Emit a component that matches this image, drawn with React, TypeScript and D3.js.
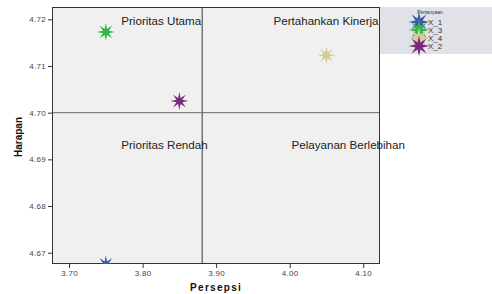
import React, { useEffect, useRef } from 'react';
import * as d3 from 'd3';

const series = ['X_1', 'X_3', 'X_4', 'X_2'];
const persepsi = [3.75, 3.75, 4.05, 3.85];
const harapan = [4.6675, 4.7173, 4.7123, 4.7025];
const colors = ['#3e58ac', '#2eb848', '#d3ce97', '#7c287d'];

const xTicks = [3.7, 3.8, 3.9, 4.0, 4.1];
const yTicks = [4.67, 4.68, 4.69, 4.7, 4.71, 4.72];

const refX = 3.881;
const refY = 4.7;

const quadLabels = ['Prioritas Utama', 'Pertahankan Kinerja', 'Prioritas Rendah', 'Pelayanan Berlebihan'];
const quadX = [3.771, 3.978, 3.771, 4.0025];
const quadY = [4.7187, 4.7187, 4.6922, 4.6922];

// 8-point star path
const starPath = (outer: number, inner: number) => {
  const pts = d3.range(16).map(i => {
    const r = i % 2 === 0 ? outer : inner;
    const a = (i * Math.PI) / 8 - Math.PI / 2;
    return [r * Math.cos(a), r * Math.sin(a)] as [number, number];
  });
  return d3.line()(pts) + 'Z';
};

const App: React.FC = () => {
  const svgRef = useRef<SVGSVGElement>(null);

  useEffect(() => {
    if (!svgRef.current) return;
    const width = 492;
    const height = 294;
    const plot = { left: 52, top: 7, right: 380, bottom: 264 };
    const font = 'Liberation Sans, Arial, sans-serif';

    const svg = d3.select(svgRef.current);
    svg.selectAll('*').remove();

    const x = d3.scaleLinear().domain([3.6768, 4.1228]).range([plot.left, plot.right]);
    const y = d3.scaleLinear().domain([4.66758, 4.72264]).range([plot.bottom, plot.top]);

    svg.append('rect').attr('width', width).attr('height', height).attr('fill', '#ffffff');

    svg.append('rect')
      .attr('x', plot.left).attr('y', plot.top)
      .attr('width', plot.right - plot.left).attr('height', plot.bottom - plot.top)
      .attr('fill', '#f0f0f0');

    svg.append('clipPath').attr('id', 'plotclip')
      .append('rect')
      .attr('x', plot.left).attr('y', plot.top)
      .attr('width', plot.right - plot.left).attr('height', plot.bottom - plot.top);

    // reference lines
    svg.append('line')
      .attr('x1', x(refX)).attr('x2', x(refX))
      .attr('y1', plot.top).attr('y2', plot.bottom)
      .attr('stroke', '#3a3a3a').attr('stroke-width', 1);
    svg.append('line')
      .attr('x1', plot.left).attr('x2', plot.right)
      .attr('y1', y(refY)).attr('y2', y(refY))
      .attr('stroke', '#6a6a6a').attr('stroke-width', 1);

    // axes
    const xAxis = svg.append('g')
      .attr('transform', `translate(0,${plot.bottom})`)
      .call(d3.axisBottom(x).tickValues(xTicks).tickFormat(d3.format('.2f')).tickSize(4).tickSizeOuter(0));
    const yAxis = svg.append('g')
      .attr('transform', `translate(${plot.left},0)`)
      .call(d3.axisLeft(y).tickValues(yTicks).tickFormat(d3.format('.2f')).tickSize(4).tickSizeOuter(0));
    [xAxis, yAxis].forEach(g => {
      g.select('.domain').remove();
      g.selectAll('line').attr('stroke', '#333');
      g.selectAll('text')
        .attr('font-family', font)
        .attr('font-size', 8)
        .attr('letter-spacing', 0.3)
        .attr('fill', '#444');
    });
    xAxis.selectAll('text').attr('dy', '0.9em').attr('y', 5);
    yAxis.selectAll('text').attr('x', -6);

    // plot border
    svg.append('rect')
      .attr('x', plot.left + 0.5).attr('y', plot.top + 0.5)
      .attr('width', plot.right - plot.left - 1).attr('height', plot.bottom - plot.top - 1)
      .attr('fill', 'none').attr('stroke', '#333').attr('stroke-width', 1);

    // legend box
    svg.append('rect')
      .attr('x', 380).attr('y', 7).attr('width', 112).attr('height', 47)
      .attr('fill', '#e1e1e8');

    // quadrant labels
    svg.append('g').selectAll('text')
      .data(quadLabels)
      .enter().append('text')
      .attr('x', (_, i) => x(quadX[i]))
      .attr('y', (_, i) => y(quadY[i]))
      .attr('font-family', font)
      .attr('font-size', 11.6)
      .attr('fill', '#222')
      .text(d => d);

    // points
    svg.append('g').attr('clip-path', 'url(#plotclip)')
      .selectAll('path')
      .data(series)
      .enter().append('path')
      .attr('d', starPath(9, 3.2))
      .attr('transform', (_, i) => `translate(${x(persepsi[i])},${y(harapan[i])})`)
      .attr('fill', (_, i) => colors[i]);

    // legend
    const legend = svg.append('g');
    legend.append('text')
      .attr('x', 430).attr('y', 13.5)
      .attr('text-anchor', 'middle')
      .attr('font-family', font)
      .attr('font-size', 5)
      .attr('fill', '#333')
      .text('Pertanyaan');
    series.forEach((s, i) => {
      const cy = 22 + i * 8;
      legend.append('path')
        .attr('d', starPath(10.5, 3.8))
        .attr('transform', `translate(419,${cy})`)
        .attr('fill', colors[i]);
      legend.append('text')
        .attr('x', 428).attr('y', cy + 3)
        .attr('font-family', font)
        .attr('font-size', 8)
        .attr('fill', '#333')
        .text(s);
    });

    // axis titles
    svg.append('text')
      .attr('x', x(3.9)).attr('y', 291)
      .attr('text-anchor', 'middle')
      .attr('font-family', font)
      .attr('font-size', 10).attr('font-weight', 'bold')
      .attr('letter-spacing', 1.3)
      .attr('fill', '#111')
      .text('Persepsi');
    svg.append('text')
      .attr('transform', 'rotate(-90)')
      .attr('x', -137).attr('y', 22)
      .attr('text-anchor', 'middle')
      .attr('font-family', font)
      .attr('font-size', 10).attr('font-weight', 'bold')
      .attr('fill', '#111')
      .text('Harapan');
  }, []);

  return (
    <div style={{ position: 'fixed', left: 0, top: 0 }}>
      <svg ref={svgRef} width={492} height={294} style={{ display: 'block' }} />
    </div>
  );
};

export default App;
